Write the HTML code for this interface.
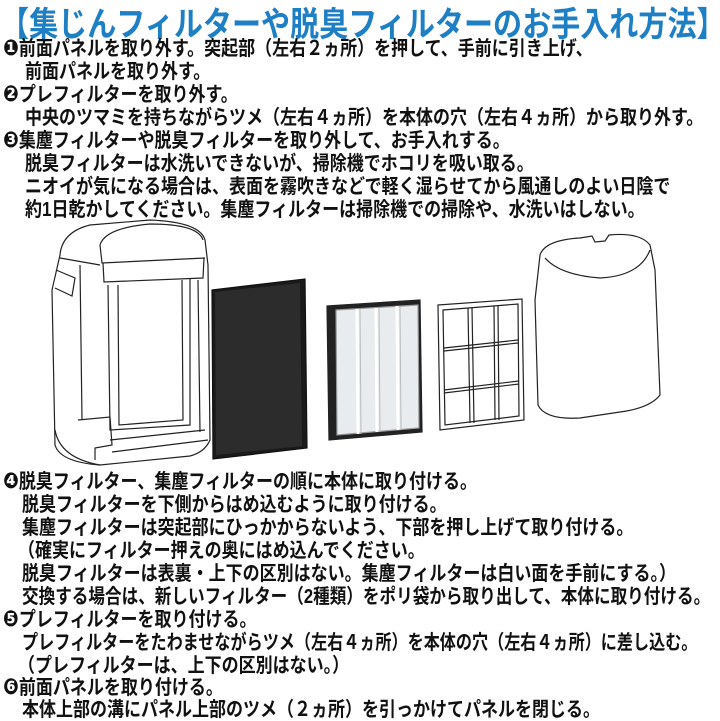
<!DOCTYPE html>
<html><head><meta charset="utf-8"><style>
html,body{margin:0;padding:0;background:#fff;}
body{width:720px;height:719px;position:relative;overflow:hidden;font-family:"Liberation Sans","Noto Sans CJK JP",sans-serif;}
.t{position:absolute;left:0;top:-3px;font-size:34px;font-weight:bold;color:#1f7fc4;white-space:nowrap;transform:scaleX(0.855);transform-origin:left top;letter-spacing:0;}
.l{position:absolute;font-size:20px;line-height:22px;color:#111;white-space:nowrap;transform:scaleX(0.85);transform-origin:left top;font-weight:600;}
.n{font-family:"DejaVu Sans",sans-serif;font-size:22px;}
svg{position:absolute;left:0;top:0;}
</style></head><body>
<div class="t">【集じんフィルターや脱臭フィルターのお手入れ方法】</div>
<div class="l" style="left:3px;top:38px"><span class="n">❶</span>前面パネルを取り外す。突起部（左右２ヵ所）を押して、手前に引き上げ、</div>
<div class="l" style="left:25px;top:61px">前面パネルを取り外す。</div>
<div class="l" style="left:3px;top:84px"><span class="n">❷</span>プレフィルターを取り外す。</div>
<div class="l" style="left:25px;top:107px">中央のツマミを持ちながらツメ（左右４ヵ所）を本体の穴（左右４ヵ所）から取り外す。</div>
<div class="l" style="left:3px;top:130px"><span class="n">❸</span>集塵フィルターや脱臭フィルターを取り外して、お手入れする。</div>
<div class="l" style="left:25px;top:153px">脱臭フィルターは水洗いできないが、掃除機でホコリを吸い取る。</div>
<div class="l" style="left:25px;top:176px">ニオイが気になる場合は、表面を霧吹きなどで軽く湿らせてから風通しのよい日陰で</div>
<div class="l" style="left:25px;top:199px">約1日乾かしてください。集塵フィルターは掃除機での掃除や、水洗いはしない。</div>

<svg width="720" height="719" viewBox="0 0 720 719">
 <g fill="none" stroke="#222" stroke-width="1.2">
  <path d="M60 255 Q62 232 90 225 L150 220 Q200 222 205 240 L208 265 L210 440 Q205 452 190 456 L100 465 Q60 462 55 445 L52 290 Z" fill="#fff"/>
  <path d="M100 245 Q105 228 150 224 Q198 224 203 240"/>
  <path d="M100 245 L102 263 L205 258"/>
  <path d="M103 263 L104 282 L203 278 L204 258"/>
  <path d="M60 258 L100 265"/>
  <path d="M56 270 L75 278 L72 296 L55 288"/>
  <path d="M108 285 L110 430 L190 425 L190 278"/>
  <path d="M118 285 L119 425 L183 420 L182 280"/>
  <path d="M198 280 L200 432"/>
  <path d="M80 265 L82 420"/>
  <path d="M78 420 L110 417 L112 445 L95 448 L95 460"/>
  <path d="M110 440 L205 430 M112 452 L208 440"/>
  <path d="M55 430 Q60 458 100 465"/>
  <polygon points="212,290 305,279 307,448 213,459" fill="#1a1a1a" stroke="#111"/>
  <polygon points="215,292 300,283 302,446 216,455" fill="#2c2c2c" stroke="none"/>
  <polygon points="327,306 420,300 422,432 329,440" fill="#222"/>
  <polygon points="336,310 418,305 419,428 337,435" fill="#e9ecee" stroke="#999"/>
  <path d="M357 309 L358 434 M376 308 L377 432 M397 306 L398 430" stroke="#fff" stroke-width="3"/>
  <path d="M360 309 L361 434 M379 308 L380 432 M400 306 L401 430" stroke="#bbb" stroke-width="1"/>
  <polygon points="438,305 522,299 524,420 440,430" fill="#fff"/>
  <polygon points="443,310 518,304 519,416 445,425" />
  <path d="M468 308 L470 423 M472 308 L474 423 M494 306 L495 420 M498 306 L499 420"/>
  <path d="M444 348 L518 340 M444 351 L518 343 M444 390 L519 381 M444 393 L519 384"/>
  <path d="M540 255 Q545 240 580 238 L592 236 L595 242 L605 241 L609 235 Q640 232 650 245 L655 270 L660 395 Q650 408 620 412 L580 418 Q545 420 538 405 L535 300 Z" fill="#fff"/>
  <path d="M545 258 Q560 275 600 278 Q640 276 650 250"/>
 </g>
</svg>

<div class="l" style="left:3px;top:471px"><span class="n">❹</span>脱臭フィルター、集塵フィルターの順に本体に取り付ける。</div>
<div class="l" style="left:22px;top:494px">脱臭フィルターを下側からはめ込むように取り付ける。</div>
<div class="l" style="left:22px;top:517px">集塵フィルターは突起部にひっかからないよう、下部を押し上げて取り付ける。</div>
<div class="l" style="left:18px;top:540px">（確実にフィルター押えの奥にはめ込んでください。</div>
<div class="l" style="left:22px;top:563px">脱臭フィルターは表裏・上下の区別はない。集塵フィルターは白い面を手前にする。）</div>
<div class="l" style="left:22px;top:586px;transform:scaleX(0.83)">交換する場合は、新しいフィルター（2種類）をポリ袋から取り出して、本体に取り付ける。</div>
<div class="l" style="left:3px;top:609px"><span class="n">❺</span>プレフィルターを取り付ける。</div>
<div class="l" style="left:22px;top:632px;transform:scaleX(0.805)">プレフィルターをたわませながらツメ（左右４ヵ所）を本体の穴（左右４ヵ所）に差し込む。</div>
<div class="l" style="left:18px;top:655px">（プレフィルターは、上下の区別はない。）</div>
<div class="l" style="left:3px;top:677px"><span class="n">❻</span>前面パネルを取り付ける。</div>
<div class="l" style="left:22px;top:699px">本体上部の溝にパネル上部のツメ（２ヵ所）を引っかけてパネルを閉じる。</div>
</body></html>
